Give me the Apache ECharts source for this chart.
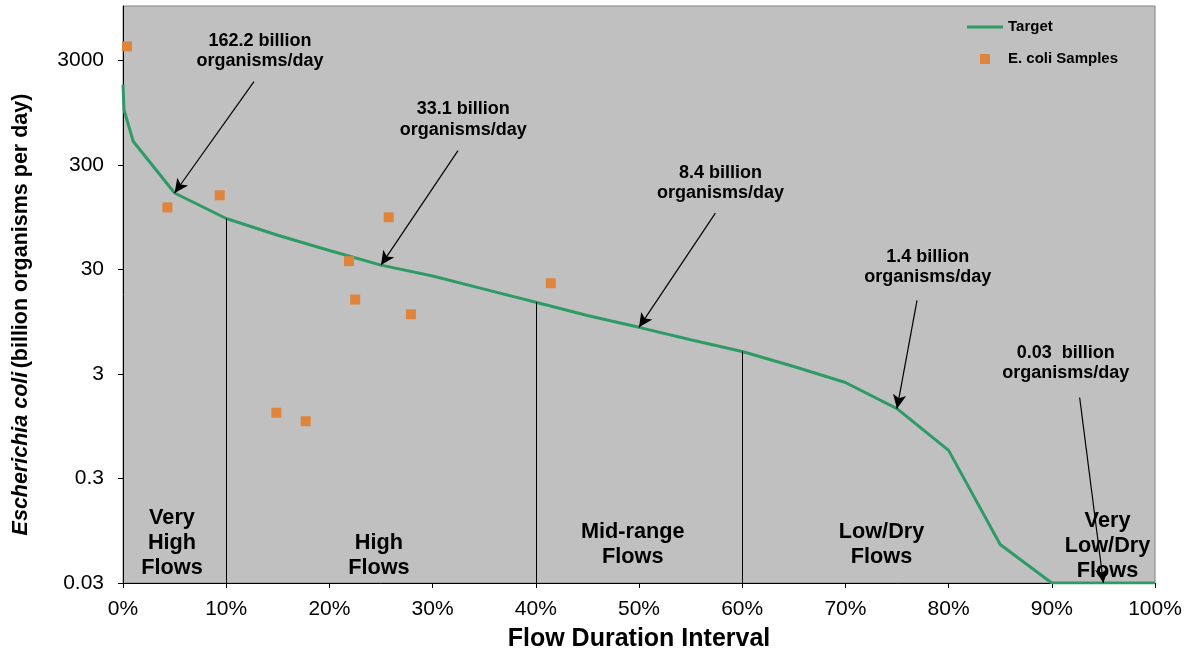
<!DOCTYPE html>
<html>
<head>
<meta charset="utf-8">
<script src="https://cdn.jsdelivr.net/npm/echarts@6/dist/echarts.min.js"></script>
<style>html,body{margin:0;padding:0;background:#fff;}#chart{width:1194px;height:652px;}</style>
</head>
<body>
<div id="chart"></div>
<script>
// ---- data (billion organisms per day vs flow duration interval %) ----
const targetX = [0, 0.1, 1, 5, 10, 15, 20, 25, 30, 35, 40, 45, 50, 55, 60, 65, 70, 75, 80, 85, 90, 95, 100];
const targetY = [1770, 1010, 504, 162.2, 92.5, 64, 45.7, 33.1, 26, 19.5, 14.6, 10.9, 8.4, 6.4, 4.93, 3.54, 2.49, 1.4, 0.558, 0.07, 0.03, 0.03, 0.03];
const sampleX = [0.39, 4.3, 9.37, 14.86, 17.7, 21.9, 22.5, 25.75, 27.9, 41.45];
const sampleY = [4110, 118, 154, 1.28, 1.06, 36.1, 15.5, 95, 11.2, 22.2];
const yTickValues = [0.03, 0.3, 3, 30, 300, 3000];
const yMin = 0.03;
const yMax = 10000;
const xTickInterval = 10;
const dropLineX = [10, 40, 60];
const regionLabels = ['Very\nHigh\nFlows', 'High\nFlows', 'Mid-range\nFlows', 'Low/Dry\nFlows', 'Very\nLow/Dry\nFlows'];
const regionX = [4.75, 24.8, 49.4, 73.5, 95.4];
const regionY = [0.073, 0.055, 0.070, 0.070, 0.068];
const annLabels = ['162.2 billion\norganisms/day', '33.1 billion\norganisms/day', '8.4 billion\norganisms/day', '1.4 billion\norganisms/day', '0.03  billion\norganisms/day'];
const annX = [13.27, 32.97, 57.9, 77.98, 91.35];
const annY = [3708, 815, 202, 31.6, 3.84];
const arrowFromX = [12.69, 32.46, 57.4, 76.94, 92.7];
const arrowFromY = [1889, 413, 104, 15.2, 1.79];
const arrowToX = [5, 25, 50, 75, 95];
const arrowToY = [162.2, 33.1, 8.4, 1.4, 0.03];

// log transform relative to axis minimum (axis ticks every decade from 0.03)
const T = v => Math.log10(v / yMin);
const FONT = '"Liberation Sans", Arial, sans-serif';

const dropLines = dropLineX.map(x => {
  const i = targetX.indexOf(x);
  return [{coord: [x, 0]}, {coord: [x, T(targetY[i])]}];
});
const arrows = arrowFromX.map((x, i) => [
  {coord: [x, T(arrowFromY[i])]},
  {coord: [arrowToX[i], T(arrowToY[i])]}
]);

const chart = echarts.init(document.getElementById('chart'), null, {renderer: 'canvas'});
chart.setOption({
  animation: false,
  backgroundColor: '#ffffff',
  textStyle: {fontFamily: FONT},
  grid: {
    left: 123, right: 39, top: 6, bottom: 69,
    containLabel: false, outerBoundsMode: 'none',
    show: true, backgroundColor: '#C0C0C0', borderColor: '#808080', borderWidth: 1
  },
  legend: {
    data: [
      {name: 'Target', icon: 'path://M0,0 L36,0 L36,3 L0,3 Z'},
      {name: 'E. coli Samples', icon: 'path://M0,0 L10,0 L10,10 L0,10 Z'}
    ],
    orient: 'vertical',
    left: 967, top: 19, padding: 0,
    itemWidth: 36, itemHeight: 10, itemGap: 16,
    textStyle: {fontFamily: FONT, fontSize: 15, fontWeight: 'bold', color: '#000', lineHeight: 16}
  },
  xAxis: {
    type: 'value', min: 0, max: 100, interval: xTickInterval,
    name: 'Flow Duration Interval', nameLocation: 'middle', nameGap: 44,
    nameTextStyle: {fontFamily: FONT, fontSize: 25, fontWeight: 'bold', color: '#000'},
    axisLine: {show: true, onZero: false, lineStyle: {color: '#000', width: 1}},
    axisTick: {show: true, inside: false, length: 5, lineStyle: {color: '#000'}},
    axisLabel: {formatter: '{value}%', fontFamily: FONT, fontSize: 21, color: '#000', margin: 16},
    splitLine: {show: false}
  },
  yAxis: {
    type: 'value', min: 0, max: T(yMax),
    name: '{i|Escherichia coli} {b|(billion organisms per day)}',
    nameLocation: 'middle', nameRotate: 90, nameGap: 91,
    nameTextStyle: {
      padding: [0, 40, 0, 0],
      rich: {
        i: {fontFamily: FONT, fontSize: 21.5, fontWeight: 'bold', fontStyle: 'italic', color: '#000'},
        b: {fontFamily: FONT, fontSize: 21.5, fontWeight: 'bold', color: '#000'}
      }
    },
    axisLine: {show: true, onZero: false, lineStyle: {color: '#000', width: 1}},
    axisTick: {show: true, length: 5, lineStyle: {color: '#000'}, customValues: yTickValues.map(T)},
    axisLabel: {
      customValues: yTickValues.map(T),
      formatter: v => String(Number((yMin * Math.pow(10, v)).toPrecision(2))),
      fontFamily: FONT, fontSize: 21, color: '#000', margin: 19
    },
    splitLine: {show: false}
  },
  series: [
    {
      name: 'Target', type: 'line', symbol: 'none', z: 3,
      data: targetX.map((x, i) => [x, T(targetY[i])]),
      lineStyle: {color: '#2E9B65', width: 3},
      itemStyle: {color: '#2E9B65'},
      markLine: {
        silent: true, symbol: ['none', 'none'], animation: false,
        label: {show: false},
        lineStyle: {color: '#000', width: 1, type: 'solid'},
        data: dropLines
      }
    },
    {
      name: 'E. coli Samples', type: 'scatter', symbol: 'rect', symbolSize: 10, z: 4,
      data: sampleX.map((x, i) => [x, T(sampleY[i])]),
      itemStyle: {color: '#E0843C', opacity: 1}
    },
    {
      name: 'arrows', type: 'line', data: [], z: 5,
      markLine: {
        silent: true, symbol: ['none', 'arrow'], symbolSize: [10, 14], animation: false,
        label: {show: false},
        lineStyle: {color: '#000', width: 1.2, type: 'solid'},
        data: arrows
      }
    },
    {
      name: 'annotations', type: 'scatter', symbolSize: 1, silent: true, z: 6,
      itemStyle: {color: 'rgba(0,0,0,0)', opacity: 1},
      data: annX.map((x, i) => ({value: [x, T(annY[i])], name: annLabels[i]})),
      label: {
        show: true, position: 'inside', formatter: p => p.name,
        fontFamily: FONT, fontSize: 18, fontWeight: 'bold', color: '#000',
        textBorderWidth: 0, lineHeight: 20.5, align: 'center', verticalAlign: 'middle'
      }
    },
    {
      name: 'regions', type: 'scatter', symbolSize: 1, silent: true, z: 6,
      itemStyle: {color: 'rgba(0,0,0,0)', opacity: 1},
      data: regionX.map((x, i) => ({value: [x, T(regionY[i])], name: regionLabels[i]})),
      label: {
        show: true, position: 'inside', formatter: p => p.name,
        fontFamily: FONT, fontSize: 21.7, fontWeight: 'bold', color: '#000',
        textBorderWidth: 0, lineHeight: 25, align: 'center', verticalAlign: 'middle'
      }
    }
  ]
});
</script>
</body>
</html>
